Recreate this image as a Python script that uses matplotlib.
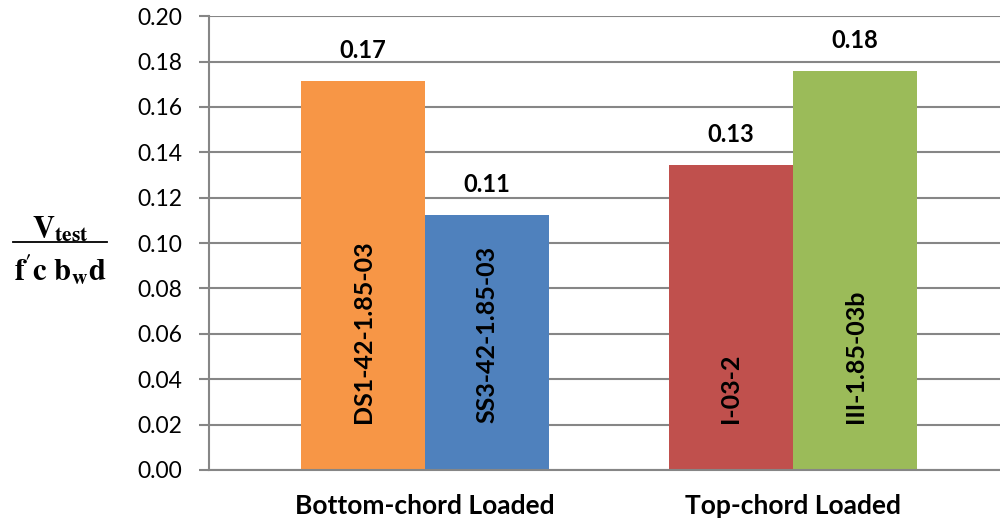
import matplotlib
matplotlib.use("Agg")
import matplotlib.pyplot as plt
from matplotlib.lines import Line2D

# Normalised shear strength per specimen, grouped by loading condition
groups = ["Bottom-chord Loaded", "Top-chord Loaded"]
specimens = [["DS1-42-1.85-03", "SS3-42-1.85-03"], ["I-03-2", "III-1.85-03b"]]
values = [[0.1714, 0.1123], [0.1344, 0.1758]]
value_labels = [["0.17", "0.11"], ["0.13", "0.18"]]
colors = [["#F79646", "#4F81BD"], ["#C0504D", "#9BBB59"]]
yticks = [0.00, 0.02, 0.04, 0.06, 0.08, 0.10, 0.12, 0.14, 0.16, 0.18, 0.20]

plt.rcParams["font.family"] = ["Lato", "DejaVu Sans"]
plt.rcParams["mathtext.fontset"] = "stix"

fig = plt.figure(figsize=(10, 5.21), dpi=100)
ax = fig.add_axes([0.209, 0.098, 0.791, 0.871])

grid_c = "#868686"
bar_w = 0.337
for gi, (names, vals, labs, cols) in enumerate(zip(specimens, values, value_labels, colors)):
    for k, (name, v, lab, c) in enumerate(zip(names, vals, labs, cols)):
        x = gi + (k - 0.5) * bar_w
        ax.bar(x, v, width=bar_w, color=c, zorder=2)
        ax.annotate(lab, (x, v), xytext=(0, 14), textcoords="offset points",
                    ha="center", va="bottom", fontsize=17, fontweight="bold")
        ax.text(x, 0.0205, name, rotation=90, ha="center", va="bottom",
                fontsize=18, fontweight="bold", zorder=3)

ax.set_xlim(-0.587, 1.5625)
ax.set_ylim(0, 0.20)
ax.set_yticks(yticks)
ax.set_yticklabels([f"{t:.2f}" for t in yticks], fontsize=16.5)
ax.yaxis.grid(True, color=grid_c, linewidth=1.5, zorder=0)
ax.set_axisbelow(True)
ax.tick_params(axis="y", length=7, width=1.5, color=grid_c, pad=12)
ax.set_xticks([0, 1])
ax.set_xticklabels(groups, fontsize=19, fontweight="bold")
ax.tick_params(axis="x", length=0, pad=17)
for s in ["top", "right"]:
    ax.spines[s].set_visible(False)
ax.spines["left"].set_color(grid_c)
ax.spines["left"].set_linewidth(1.5)
ax.spines["bottom"].set_color(grid_c)
ax.spines["bottom"].set_linewidth(1.5)

# fraction-style y label
fig.text(0.060, 0.560, r"$\mathbf{V}_{\mathbf{test}}$", ha="center", va="center", fontsize=22)
fig.add_artist(Line2D([0.013, 0.107], [0.535, 0.535], color="black", linewidth=1.3,
                      transform=fig.transFigure))
fig.text(0.060, 0.485, r"$\mathbf{f^{\prime}c\ b_{w}d}$", ha="center", va="center", fontsize=22)

fig.savefig("out.png", dpi=100)
